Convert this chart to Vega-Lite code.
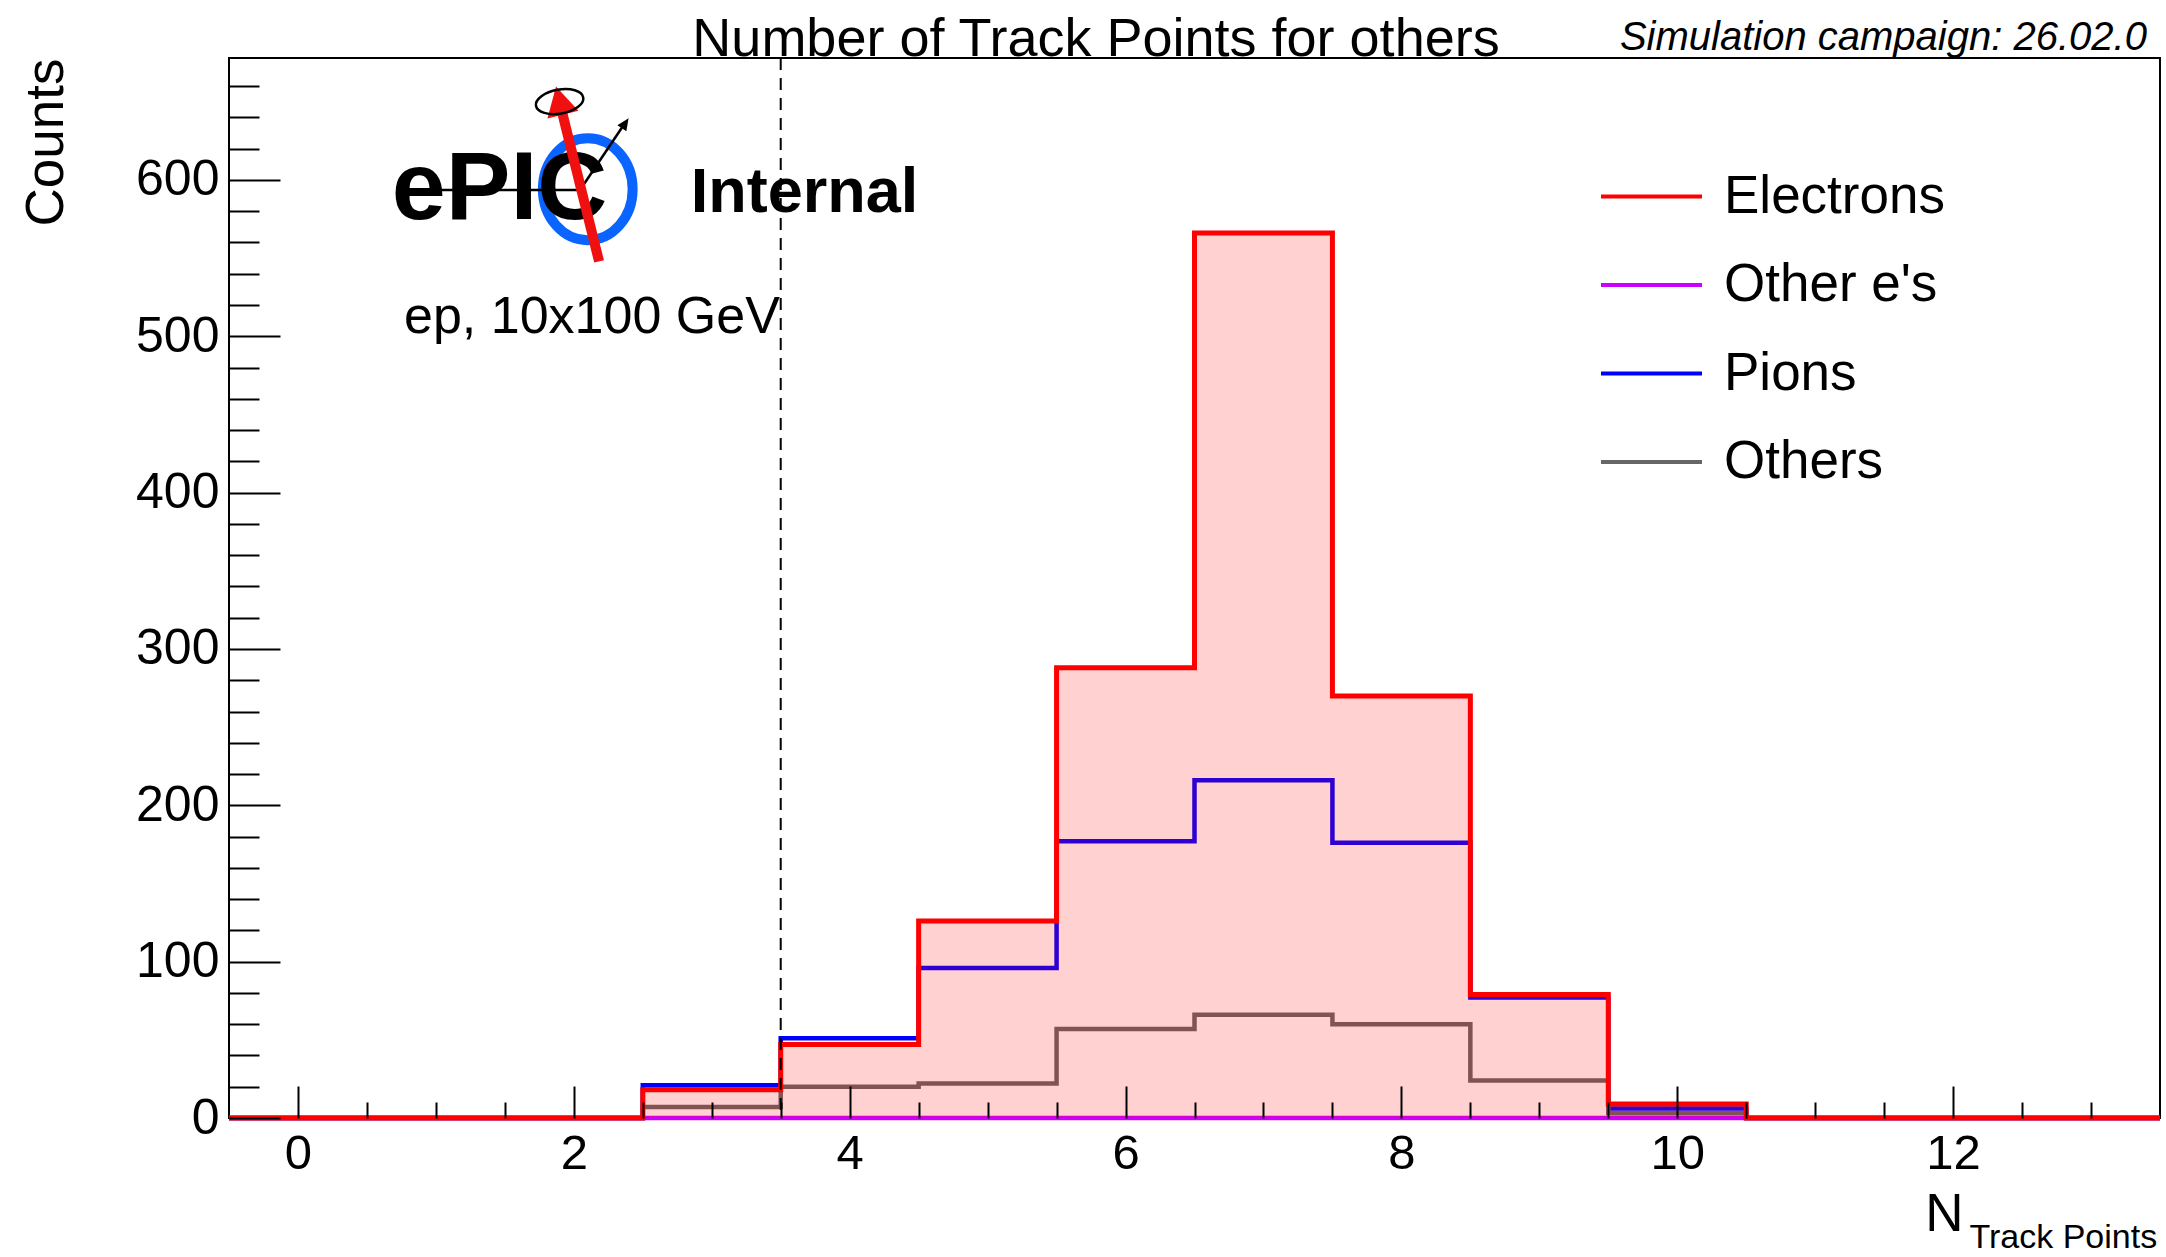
{
  "$schema": "https://vega.github.io/schema/vega-lite/v6.json",
  "width": 1931,
  "height": 1060,
  "autosize": {"type": "none"},
  "padding": {"left": 229, "top": 58, "right": 6, "bottom": 139},
  "background": "white",
  "data": {
    "values": [
      {"series": "Electrons", "bin": 0, "lo": -0.5, "hi": 0.5, "count": 0},
      {"series": "Electrons", "bin": 1, "lo": 0.5, "hi": 1.5, "count": 0},
      {"series": "Electrons", "bin": 2, "lo": 1.5, "hi": 2.5, "count": 0},
      {"series": "Electrons", "bin": 3, "lo": 2.5, "hi": 3.5, "count": 18},
      {"series": "Electrons", "bin": 4, "lo": 3.5, "hi": 4.5, "count": 47},
      {"series": "Electrons", "bin": 5, "lo": 4.5, "hi": 5.5, "count": 126},
      {"series": "Electrons", "bin": 6, "lo": 5.5, "hi": 6.5, "count": 288},
      {"series": "Electrons", "bin": 7, "lo": 6.5, "hi": 7.5, "count": 566},
      {"series": "Electrons", "bin": 8, "lo": 7.5, "hi": 8.5, "count": 270},
      {"series": "Electrons", "bin": 9, "lo": 8.5, "hi": 9.5, "count": 79},
      {"series": "Electrons", "bin": 10, "lo": 9.5, "hi": 10.5, "count": 9},
      {"series": "Electrons", "bin": 11, "lo": 10.5, "hi": 11.5, "count": 0},
      {"series": "Electrons", "bin": 12, "lo": 11.5, "hi": 12.5, "count": 0},
      {"series": "Electrons", "bin": 13, "lo": 12.5, "hi": 13.5, "count": 0},
      {"series": "Other e's", "bin": 0, "lo": -0.5, "hi": 0.5, "count": 0},
      {"series": "Other e's", "bin": 1, "lo": 0.5, "hi": 1.5, "count": 0},
      {"series": "Other e's", "bin": 2, "lo": 1.5, "hi": 2.5, "count": 0},
      {"series": "Other e's", "bin": 3, "lo": 2.5, "hi": 3.5, "count": 0},
      {"series": "Other e's", "bin": 4, "lo": 3.5, "hi": 4.5, "count": 0},
      {"series": "Other e's", "bin": 5, "lo": 4.5, "hi": 5.5, "count": 0},
      {"series": "Other e's", "bin": 6, "lo": 5.5, "hi": 6.5, "count": 0},
      {"series": "Other e's", "bin": 7, "lo": 6.5, "hi": 7.5, "count": 0},
      {"series": "Other e's", "bin": 8, "lo": 7.5, "hi": 8.5, "count": 0},
      {"series": "Other e's", "bin": 9, "lo": 8.5, "hi": 9.5, "count": 0},
      {"series": "Other e's", "bin": 10, "lo": 9.5, "hi": 10.5, "count": 0},
      {"series": "Other e's", "bin": 11, "lo": 10.5, "hi": 11.5, "count": 0},
      {"series": "Other e's", "bin": 12, "lo": 11.5, "hi": 12.5, "count": 0},
      {"series": "Other e's", "bin": 13, "lo": 12.5, "hi": 13.5, "count": 0},
      {"series": "Pions", "bin": 0, "lo": -0.5, "hi": 0.5, "count": 0},
      {"series": "Pions", "bin": 1, "lo": 0.5, "hi": 1.5, "count": 0},
      {"series": "Pions", "bin": 2, "lo": 1.5, "hi": 2.5, "count": 0},
      {"series": "Pions", "bin": 3, "lo": 2.5, "hi": 3.5, "count": 21},
      {"series": "Pions", "bin": 4, "lo": 3.5, "hi": 4.5, "count": 51},
      {"series": "Pions", "bin": 5, "lo": 4.5, "hi": 5.5, "count": 96},
      {"series": "Pions", "bin": 6, "lo": 5.5, "hi": 6.5, "count": 177},
      {"series": "Pions", "bin": 7, "lo": 6.5, "hi": 7.5, "count": 216},
      {"series": "Pions", "bin": 8, "lo": 7.5, "hi": 8.5, "count": 176},
      {"series": "Pions", "bin": 9, "lo": 8.5, "hi": 9.5, "count": 77},
      {"series": "Pions", "bin": 10, "lo": 9.5, "hi": 10.5, "count": 6},
      {"series": "Pions", "bin": 11, "lo": 10.5, "hi": 11.5, "count": 0},
      {"series": "Pions", "bin": 12, "lo": 11.5, "hi": 12.5, "count": 0},
      {"series": "Pions", "bin": 13, "lo": 12.5, "hi": 13.5, "count": 0},
      {"series": "Others", "bin": 0, "lo": -0.5, "hi": 0.5, "count": 0},
      {"series": "Others", "bin": 1, "lo": 0.5, "hi": 1.5, "count": 0},
      {"series": "Others", "bin": 2, "lo": 1.5, "hi": 2.5, "count": 0},
      {"series": "Others", "bin": 3, "lo": 2.5, "hi": 3.5, "count": 7},
      {"series": "Others", "bin": 4, "lo": 3.5, "hi": 4.5, "count": 20},
      {"series": "Others", "bin": 5, "lo": 4.5, "hi": 5.5, "count": 22},
      {"series": "Others", "bin": 6, "lo": 5.5, "hi": 6.5, "count": 57},
      {"series": "Others", "bin": 7, "lo": 6.5, "hi": 7.5, "count": 66},
      {"series": "Others", "bin": 8, "lo": 7.5, "hi": 8.5, "count": 60},
      {"series": "Others", "bin": 9, "lo": 8.5, "hi": 9.5, "count": 24},
      {"series": "Others", "bin": 10, "lo": 9.5, "hi": 10.5, "count": 3},
      {"series": "Others", "bin": 11, "lo": 10.5, "hi": 11.5, "count": 0},
      {"series": "Others", "bin": 12, "lo": 11.5, "hi": 12.5, "count": 0},
      {"series": "Others", "bin": 13, "lo": 12.5, "hi": 13.5, "count": 0}
    ]
  },
  "layer": [
    {
      "transform": [
        {"filter": "datum.series !== 'Electrons'"},
        {"fold": ["lo", "hi"], "as": ["edge", "x"]}
      ],
      "mark": {"type": "line", "strokeWidth": 4.5, "interpolate": "linear"},
      "encoding": {
        "x": {
          "field": "x", "type": "quantitative",
          "scale": {"domain": [-0.5, 13.5], "nice": false, "zero": false},
          "axis": {
            "orient": "bottom", "values": [0, 2, 4, 6, 8, 10, 12], "format": "d",
            "ticks": false, "domain": false, "grid": false,
            "labelFontSize": 49, "labelPadding": 11, "labelFlush": false, "labelOverlap": false,
            "title": "N", "titleFontSize": 53, "titleFontWeight": "normal",
            "titleX": 1734, "titleY": 112, "titleAlign": "right", "titleBaseline": "alphabetic"
          }
        },
        "y": {
          "field": "count", "type": "quantitative",
          "scale": {"domain": [0, 678], "nice": false},
          "axis": {
            "orient": "left", "values": [0, 100, 200, 300, 400, 500, 600], "format": "d",
            "ticks": false, "domain": false, "grid": false,
            "labelFontSize": 50, "labelPadding": 10, "labelFlush": false, "labelOverlap": false,
            "title": "Counts", "titleFontSize": 53, "titleFontWeight": "normal",
            "titleAngle": 270, "titleX": -167, "titleY": 0, "titleAlign": "right", "titleBaseline": "alphabetic"
          }
        },
        "color": {
          "field": "series", "type": "nominal",
          "scale": {"domain": ["Electrons", "Other e's", "Pions", "Others"], "range": ["#ff0000", "#cc00ff", "#0000ff", "#666666"]},
          "legend": {
            "orient": "none", "legendX": 1395, "legendY": 111, "title": null, "padding": 0,
            "symbolType": "M-2,0L2,0", "symbolSize": 2550, "symbolStrokeWidth": 4,
            "labelFontSize": 53, "labelFont": "Liberation Sans", "labelColor": "black",
            "labelOffset": 45, "rowPadding": 33.5, "labelLimit": 0
          }
        },
        "order": [{"field": "x", "type": "quantitative"}, {"field": "bin", "type": "quantitative"}]
      }
    },
    {
      "transform": [
        {"filter": "datum.series === 'Electrons'"},
        {"fold": ["lo", "hi"], "as": ["edge", "x"]}
      ],
      "mark": {"type": "area", "fill": "#ff0000", "fillOpacity": 0.18, "interpolate": "linear"},
      "encoding": {
        "x": {"field": "x", "type": "quantitative", "axis": null},
        "y": {"field": "count", "type": "quantitative", "stack": null, "axis": null},
        "order": [{"field": "x", "type": "quantitative"}, {"field": "bin", "type": "quantitative"}]
      }
    },
    {
      "transform": [
        {"filter": "datum.series === 'Electrons'"},
        {"fold": ["lo", "hi"], "as": ["edge", "x"]}
      ],
      "mark": {"type": "line", "strokeWidth": 5, "interpolate": "linear"},
      "encoding": {
        "x": {
          "field": "x", "type": "quantitative",
          "axis": {
            "orient": "bottom", "values": [0, 2, 4, 6, 8, 10, 12],
            "labels": false, "ticks": true, "tickSize": -32, "tickWidth": 2, "tickColor": "black",
            "domain": false, "grid": false, "zindex": 1,
            "title": "Track Points", "titleFontSize": 34, "titleFontWeight": "normal",
            "titleX": 1740, "titleY": 129, "titleAlign": "left", "titleBaseline": "alphabetic"
          }
        },
        "y": {
          "field": "count", "type": "quantitative",
          "axis": {
            "orient": "left", "values": [0, 100, 200, 300, 400, 500, 600],
            "labels": false, "ticks": true, "tickSize": -51, "tickWidth": 2, "tickColor": "black",
            "domain": false, "grid": false, "zindex": 1, "title": null
          }
        },
        "color": {
          "field": "series", "type": "nominal",
          "scale": {"domain": ["Electrons", "Other e's", "Pions", "Others"], "range": ["#ff0000", "#cc00ff", "#0000ff", "#666666"]},
          "legend": {
            "orient": "none", "legendX": 1395, "legendY": 111, "title": null, "padding": 0,
            "symbolType": "M-2,0L2,0", "symbolSize": 2550, "symbolStrokeWidth": 4,
            "labelFontSize": 53, "labelFont": "Liberation Sans", "labelColor": "black",
            "labelOffset": 45, "rowPadding": 33.5, "labelLimit": 0
          }
        },
        "order": [{"field": "x", "type": "quantitative"}, {"field": "bin", "type": "quantitative"}]
      }
    },
    {
      "data": {"values": [{}]},
      "mark": {"type": "rule", "stroke": "black", "strokeWidth": 2, "strokeDash": [12, 8]},
      "encoding": {
        "x": {
          "datum": 3.5, "type": "quantitative",
          "axis": {
            "orient": "bottom",
            "values": [0.5, 1, 1.5, 2.5, 3, 3.5, 4.5, 5, 5.5, 6.5, 7, 7.5, 8.5, 9, 9.5, 10.5, 11, 11.5, 12.5, 13],
            "labels": false, "ticks": true, "tickSize": -16, "tickWidth": 2, "tickColor": "black",
            "domain": false, "grid": false, "zindex": 1, "title": null
          }
        }
      }
    },
    {
      "data": {"values": [{}]},
      "mark": {"type": "text", "text": "Number of Track Points for others", "fontSize": 54, "align": "center", "baseline": "alphabetic", "font": "Liberation Sans", "color": "black"},
      "encoding": {
        "x": {"datum": 5.786, "type": "quantitative", "axis": null},
        "y": {"datum": 679.3, "type": "quantitative", "axis": null}
      }
    },
    {
      "data": {"values": [{}]},
      "mark": {"type": "text", "text": "Simulation campaign: 26.02.0", "fontSize": 40, "fontStyle": "italic", "align": "right", "baseline": "alphabetic", "font": "Liberation Sans", "color": "black"},
      "encoding": {
        "x": {"datum": 13.405, "type": "quantitative", "axis": null},
        "y": {"datum": 683.1, "type": "quantitative", "axis": null}
      }
    },
    {
      "data": {"values": [{}]},
      "mark": {"type": "point", "shape": "M-0.88,0A0.88,1 0 1,0 0.88,0A0.88,1 0 1,0 -0.88,0Z", "size": 10404, "filled": false, "stroke": "#0a64ff", "strokeWidth": 10, "opacity": 1},
      "encoding": {
        "x": {"datum": 2.101, "type": "quantitative", "axis": null},
        "y": {"datum": 594.1, "type": "quantitative", "axis": null}
      }
    },
    {
      "data": {"values": [{}]},
      "mark": {"type": "text", "text": "ePIC", "fontSize": 97, "fontWeight": "bold", "align": "left", "baseline": "alphabetic", "font": "Liberation Sans", "color": "black"},
      "encoding": {
        "x": {"datum": 0.68, "type": "quantitative", "axis": null},
        "y": {
          "datum": 575, "type": "quantitative",
          "axis": {
            "orient": "left",
            "values": [20, 40, 60, 80, 120, 140, 160, 180, 220, 240, 260, 280, 320, 340, 360, 380, 420, 440, 460, 480, 520, 540, 560, 580, 620, 640, 660],
            "labels": false, "ticks": true, "tickSize": -30, "tickWidth": 2, "tickColor": "black",
            "domain": false, "grid": false, "zindex": 1, "title": null
          }
        }
      }
    },
    {
      "data": {"values": [{}]},
      "mark": {"type": "rule", "stroke": "black", "strokeWidth": 2.5},
      "encoding": {
        "x": {"datum": 1.028, "type": "quantitative", "axis": null},
        "x2": {"datum": 2.045},
        "y": {"datum": 593.6, "type": "quantitative", "axis": null},
        "y2": {"datum": 593.6}
      }
    },
    {
      "data": {"values": [{}]},
      "mark": {"type": "rule", "stroke": "black", "strokeWidth": 2.5},
      "encoding": {
        "x": {"datum": 2.045, "type": "quantitative", "axis": null},
        "x2": {"datum": 2.348},
        "y": {"datum": 593.6, "type": "quantitative", "axis": null},
        "y2": {"datum": 633.4}
      }
    },
    {
      "data": {"values": [{}]},
      "mark": {"type": "point", "shape": "M0,0L0.45,1L-0.45,1Z", "size": 576, "filled": true, "fill": "black", "strokeWidth": 0, "angle": 34, "opacity": 1},
      "encoding": {
        "x": {"datum": 2.397, "type": "quantitative", "axis": null},
        "y": {"datum": 639.4, "type": "quantitative", "axis": null}
      }
    },
    {
      "data": {"values": [{}]},
      "mark": {"type": "rule", "stroke": "#f01010", "strokeWidth": 10, "strokeCap": "butt"},
      "encoding": {
        "x": {"datum": 2.183, "type": "quantitative", "axis": null},
        "x2": {"datum": 1.91},
        "y": {"datum": 547.9, "type": "quantitative", "axis": null},
        "y2": {"datum": 645.1}
      }
    },
    {
      "data": {"values": [{}]},
      "mark": {"type": "point", "shape": "M0,0L0.55,1L-0.55,1Z", "size": 3364, "filled": true, "fill": "#f01010", "strokeWidth": 0, "angle": 346.25, "opacity": 1},
      "encoding": {
        "x": {"datum": 1.871, "type": "quantitative", "axis": null},
        "y": {"datum": 659.8, "type": "quantitative", "axis": null}
      }
    },
    {
      "data": {"values": [{}]},
      "mark": {"type": "point", "shape": "M-1,0A1,0.5 0 1,0 1,0A1,0.5 0 1,0 -1,0Z", "size": 2304, "filled": false, "stroke": "black", "strokeWidth": 2.5, "angle": 350, "opacity": 1},
      "encoding": {
        "x": {"datum": 1.897, "type": "quantitative", "axis": null},
        "y": {"datum": 650.1, "type": "quantitative", "axis": null}
      }
    },
    {
      "data": {"values": [{}]},
      "mark": {"type": "text", "text": "Internal", "fontSize": 63, "fontWeight": "bold", "align": "left", "baseline": "alphabetic", "font": "Liberation Sans", "color": "black"},
      "encoding": {
        "x": {"datum": 2.848, "type": "quantitative", "axis": null},
        "y": {"datum": 579.5, "type": "quantitative", "axis": null}
      }
    },
    {
      "data": {"values": [{}]},
      "mark": {"type": "text", "text": "ep, 10x100 GeV", "fontSize": 52, "align": "left", "baseline": "alphabetic", "font": "Liberation Sans", "color": "black"},
      "encoding": {
        "x": {"datum": 0.769, "type": "quantitative", "axis": null},
        "y": {"datum": 502.1, "type": "quantitative", "axis": null}
      }
    }
  ],
  "resolve": {"axis": {"x": "independent", "y": "independent"}},
  "config": {
    "font": "Liberation Sans",
    "view": {"stroke": "black", "strokeWidth": 2},
    "axis": {"labelFont": "Liberation Sans", "titleFont": "Liberation Sans", "labelColor": "black", "titleColor": "black", "tickColor": "black"},
    "legend": {"labelFont": "Liberation Sans", "labelColor": "black"}
  }
}
